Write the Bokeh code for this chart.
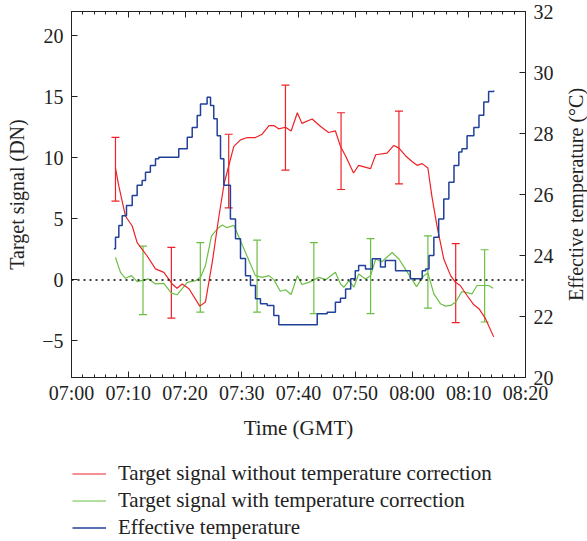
import math
from bokeh.plotting import figure
from bokeh.layouts import column, row
from bokeh.models import (Range1d, LinearAxis, FixedTicker, Span, Whisker, TeeHead,
                          ColumnDataSource, Legend, LegendItem)
from bokeh.embed import file_html
from bokeh.resources import INLINE

# ---------------- data (minutes after 07:00 GMT) ----------------
x_ticks = [0, 10, 20, 30, 40, 50, 60, 70, 80]
x_tick_labels = ["07:00", "07:10", "07:20", "07:30", "07:40", "07:50", "08:00", "08:10", "08:20"]
y_ticks = [-5, 0, 5, 10, 15, 20]
y_tick_labels = ["\u22125", "0", "5", "10", "15", "20"]
t_ticks = [20, 22, 24, 26, 28, 30, 32]

red_t = [7.75, 8.34, 9.5, 10.7, 11.57, 13.3, 14.8, 16.27, 17.74, 18.6, 19.5, 20.7, 22.6, 23.6,
         24.8, 25.9, 26.9, 28.6, 29.78, 30.96, 32.4, 33.6, 34.8, 35.65, 36.5, 37.7, 38.7, 39.8,
         40.6, 42.4, 43.9, 45.3, 46.5, 47.4, 48.3, 49.7, 50.6, 52.7, 53.6, 55.6, 56.8, 57.7,
         58.85, 60.0, 60.9, 61.8, 62.8, 63.5, 64.4, 65.6, 66.8, 67.7, 68.5, 69.7, 70.9, 71.8,
         72.95, 74.4]
red_v = [9.17, 7.68, 5.24, 4.42, 3.06, 1.98, 0.9, 0.62, -0.33, -0.68, -0.33, -0.73, -2.15, -1.82,
         1.43, 4.97, 7.9, 10.94, 11.48, 11.67, 11.67, 11.94, 12.65, 12.65, 12.38, 12.51, 12.21, 13.7,
         12.83, 13.19, 12.57, 12.08, 12.21, 10.94, 10.15, 8.76, 9.39, 9.12, 10.26, 10.39, 11.02, 10.8,
         10.18, 9.71, 9.39, 9.53, 9.17, 6.86, 4.42, 1.71, 0.35, -0.22, -0.46, -1.28, -2.04, -2.36,
         -3.18, -4.67]

green_t = [7.75, 8.63, 9.5, 10.57, 11.57, 13.6, 14.8, 16.27, 17.6, 18.6, 20.4, 21.85, 22.73, 23.6,
           24.67, 25.9, 26.6, 27.4, 28.6, 30.66, 32.4, 33.6, 34.8, 35.65, 36.8, 37.7, 38.7, 39.8,
           40.6, 41.8, 43.6, 44.8, 46.5, 47.4, 48.0, 48.9, 49.75, 50.6, 51.8, 52.7, 53.6, 54.7,
           56.5, 57.7, 59.2, 60.8, 62.1, 62.8, 63.85, 65.0, 65.9, 66.8, 67.7, 68.8, 70.6, 71.45,
           73.5, 74.3]
green_v = [1.84, 0.62, 0.13, 0.35, -0.14, 0.08, -0.33, -0.28, -1.09, -1.22, -0.2, -0.06, 0.21, 1.16,
           3.61, 4.28, 4.5, 4.28, 4.48, 2.25, 0.35, 0.21, 0.35, 0.02, -0.93, -0.81, -1.2, 0.35,
           -0.38, -0.2, 0.21, 0.02, 0.62, -0.33, -0.6, -0.06, -0.6, 0.49, 0.08, 0.35, 1.71, 1.49,
           2.25, 1.71, 0.62, -0.55, 0.35, 0.57, -1.14, -1.95, -2.15, -2.09, -1.82, -0.95, -1.14, -0.46,
           -0.46, -0.68]

blue_t = [7.46, 7.75, 8.34, 8.93, 9.69, 10.7, 11.57, 12.45, 13.04, 13.9, 14.8, 15.38, 18.03, 18.9,
          20.4, 21.27, 22.15, 22.73, 23.9, 24.5, 25.07, 25.67, 26.26, 26.84, 28.0, 28.9, 29.78,
          30.66, 31.54, 32.42, 33.3, 34.48, 35.65, 36.53, 42.4, 43.3, 45.05, 46.5, 47.4, 48.3,
          49.2, 50.0, 50.6, 51.8, 53.0, 54.45, 55.3, 57.1, 58.85, 59.7, 61.2, 61.8, 62.4, 63.0,
          63.85, 64.7, 65.6, 66.5, 67.4, 68.25, 68.8, 69.7, 70.9, 71.8, 72.65, 73.5, 74.4]
blue_T = [24.22, 24.6, 24.98, 25.3, 25.64, 25.97, 26.3, 26.46, 26.73, 26.95, 27.17, 27.22, 27.22, 27.5,
          27.88, 28.2, 28.59, 28.97, 29.19, 28.92, 28.48, 27.93, 27.17, 26.3, 25.2, 24.55, 23.9,
          23.34, 23.02, 22.58, 22.42, 22.36, 22.03, 21.73, 21.73, 22.09, 22.14, 22.47, 22.6, 22.9,
          23.24, 23.5, 23.67, 23.56, 23.89, 23.62, 23.84, 23.5, 23.5, 23.24, 23.24, 23.5, 23.56, 24.0,
          24.6, 25.2, 25.85, 26.4, 26.95, 27.39, 27.5, 27.93, 28.2, 28.6, 29.03, 29.38, 29.41]

red_err_t = [7.75, 17.6, 27.7, 37.7, 47.5, 57.7, 67.7]
red_err_lo = [6.46, -3.13, 5.91, 9.0, 7.41, 7.87, -3.5]
red_err_hi = [11.69, 2.66, 11.94, 15.96, 13.7, 13.84, 2.98]

green_err_t = [12.6, 22.7, 32.7, 42.7, 52.7, 62.8, 72.8]
green_err_lo = [-2.85, -2.64, -2.64, -2.77, -2.77, -2.31, -3.45]
green_err_hi = [2.77, 3.06, 3.26, 3.06, 3.39, 3.61, 2.47]

series_labels = ["Target signal without temperature correction",
                 "Target signal with temperature correction",
                 "Effective temperature"]
x_title = "Time (GMT)"
y_title = "Target signal (DN)"
y2_title = "Effective temperature (\u00b0C)"

# ---------------- styles ----------------
FONT = "Liberation Serif"
RED = "#ee2226"
GREEN = "#6cbf45"
BLUE = "#21409a"
INK = "#222222"

p = figure(width=557, height=461, output_backend="svg", toolbar_location=None,
           x_range=Range1d(0, 80), y_range=Range1d(-8, 22),
           min_border_left=71, min_border_right=32, min_border_top=11, min_border_bottom=84)
p.extra_y_ranges = {"temp": Range1d(20, 32)}
p.xgrid.visible = False
p.ygrid.visible = False
p.outline_line_color = INK
p.background_fill_color = "white"
p.border_fill_color = "white"

def style_axis(ax, size="20px"):
    ax.axis_line_color = INK
    ax.major_tick_line_color = INK
    ax.minor_tick_line_color = INK
    ax.major_tick_in = 6
    ax.major_tick_out = 0
    ax.minor_tick_in = 3
    ax.minor_tick_out = 0
    ax.major_label_text_font = FONT
    ax.major_label_text_font_size = size
    ax.major_label_text_color = INK
    ax.axis_label_text_font = FONT
    ax.axis_label_text_font_size = "21px"
    ax.axis_label_text_font_style = "normal"
    ax.axis_label_text_color = INK

xb = p.xaxis[0]
style_axis(xb)
xb.ticker = FixedTicker(ticks=x_ticks, minor_ticks=list(range(0, 81, 2)))
xb.major_label_overrides = {t: s for t, s in zip(x_ticks, x_tick_labels)}
xb.axis_label = x_title
xb.major_label_standoff = 4
xb.axis_label_standoff = 9

yl = p.yaxis[0]
style_axis(yl)
yl.ticker = FixedTicker(ticks=y_ticks, minor_ticks=[])
yl.major_label_overrides = {t: s for t, s in zip(y_ticks, y_tick_labels)}
yl.axis_label = y_title
yl.axis_label_text_font_size = "20px"
yl.major_label_standoff = 8
yl.axis_label_standoff = 11

yr = LinearAxis(y_range_name="temp")
style_axis(yr)
yr.ticker = FixedTicker(ticks=t_ticks, minor_ticks=[])
yr.major_label_standoff = 8
p.add_layout(yr, "right")

xt = LinearAxis()
style_axis(xt)
xt.ticker = FixedTicker(ticks=x_ticks, minor_ticks=list(range(0, 81, 2)))
xt.major_label_overrides = {t: "" for t in x_ticks}
xt.major_label_text_font_size = "0px"
xt.major_label_standoff = 0
p.add_layout(xt, "above")

p.add_layout(Span(location=0, dimension="width", line_color="black",
                  line_width=1.5, line_dash="2 4"))

r_green = p.line(green_t, green_v, line_color=GREEN, line_width=1.2)
r_red = p.line(red_t, red_v, line_color=RED, line_width=1.2)
r_blue = p.step(blue_t, blue_T, mode="after", y_range_name="temp",
                line_color=BLUE, line_width=1.5)

src_r = ColumnDataSource(dict(t=red_err_t, lo=red_err_lo, hi=red_err_hi))
src_g = ColumnDataSource(dict(t=green_err_t, lo=green_err_lo, hi=green_err_hi))
for src, col in ((src_r, RED), (src_g, GREEN)):
    p.add_layout(Whisker(base="t", lower="lo", upper="hi", source=src, dimension="height",
                         line_color=col, line_width=1.2,
                         upper_head=TeeHead(size=8, line_color=col, line_width=1.2),
                         lower_head=TeeHead(size=8, line_color=col, line_width=1.2)))

# ---- narrow strip on the right: its (invisible) left axis carries the right-hand title ----
p_right = figure(width=30, height=461, output_backend="svg", toolbar_location=None,
                 x_range=Range1d(0, 1), y_range=Range1d(0, 1),
                 min_border_left=29, min_border_right=0, min_border_top=11, min_border_bottom=84,
                 x_axis_location=None, y_axis_location="left")
p_right.outline_line_color = None
p_right.grid.visible = False
ax2 = p_right.yaxis[0]
ax2.ticker = FixedTicker(ticks=[], minor_ticks=[])
ax2.axis_line_color = None
ax2.major_tick_line_color = None
ax2.minor_tick_line_color = None
ax2.major_label_text_font_size = "0px"
ax2.major_label_standoff = 0
ax2.axis_label = y2_title
ax2.axis_label_standoff = 0
ax2.axis_label_text_font = FONT
ax2.axis_label_text_font_size = "20px"
ax2.axis_label_text_font_style = "normal"
ax2.axis_label_text_color = INK

# ---- legend panel below (series drawn far outside its visible range) ----
p_leg = figure(width=587, height=80, output_backend="svg", toolbar_location=None,
               x_range=Range1d(-2, -1), y_range=Range1d(-2, -1), min_border=0,
               x_axis_location=None, y_axis_location=None)
p_leg.outline_line_color = None
p_leg.grid.visible = False
lr = p_leg.line(red_t, red_v, line_color=RED, line_width=1.2)
lg = p_leg.line(green_t, green_v, line_color=GREEN, line_width=1.2)
lb = p_leg.line(blue_t, blue_T, line_color=BLUE, line_width=1.5)
legend = Legend(items=[LegendItem(label=series_labels[0], renderers=[lr]),
                       LegendItem(label=series_labels[1], renderers=[lg]),
                       LegendItem(label=series_labels[2], renderers=[lb])],
                location=(72, 1), padding=0, margin=0, spacing=2,
                glyph_width=34, glyph_height=25, label_height=25, label_standoff=12,
                label_text_font=FONT, label_text_font_size="21px", label_text_color=INK,
                border_line_color=None, background_fill_alpha=0)
p_leg.add_layout(legend)

layout = column(row(p, p_right), p_leg)
open("out.html", "w").write(file_html(layout, INLINE))
